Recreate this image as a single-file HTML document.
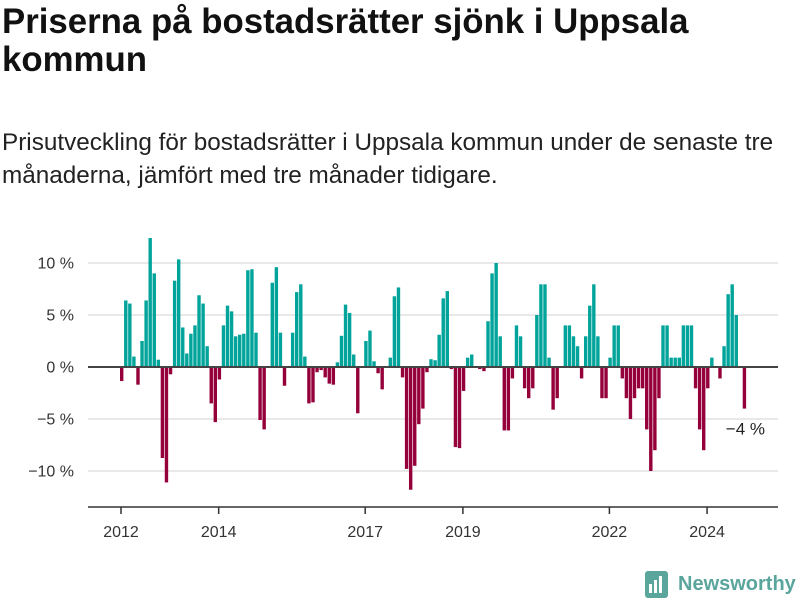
<!DOCTYPE html>
<html><head><meta charset="utf-8"><style>
html,body{margin:0;padding:0;background:#fff;width:800px;height:600px;overflow:hidden;font-family:"Liberation Sans",sans-serif;color:#111}
h1{position:absolute;left:2px;top:3px;margin:0;font-size:34.8px;line-height:38px;font-weight:bold;width:730px}
p.sub{position:absolute;left:2px;top:126px;margin:0;font-size:24.3px;line-height:33px;width:798px;color:#222}
svg{position:absolute;left:0;top:0}
</style></head><body>
<h1>Priserna på bostadsrätter sjönk i Uppsala kommun</h1>
<p class="sub">Prisutveckling för bostadsrätter i Uppsala kommun under de senaste tre månaderna, jämfört med tre månader tidigare.</p>
<svg id="chart" width="800" height="600"></svg>
<script>
const startYear = 2012;
const values = [-1.35,6.4,6.1,1.0,-1.7,2.5,6.4,12.4,9.0,0.7,-8.75,-11.1,-0.7,8.3,10.35,3.8,1.3,3.2,4.0,6.9,6.1,2.0,-3.5,-5.3,-1.2,4.0,5.9,5.35,2.95,3.1,3.2,9.3,9.4,3.3,-5.1,-6.0,
null,8.1,9.6,3.3,-1.8,null,3.3,7.2,7.95,1.0,-3.5,-3.4,-0.5,-0.3,-1.0,-1.6,-1.7,0.45,3.0,6.0,5.2,1.2,-4.45,null,2.5,3.5,0.55,-0.6,-2.15,null,0.9,6.8,7.65,-1.0,-9.8,-11.8,-9.5,-5.5,-4.0,
-0.5,0.75,0.65,3.1,6.6,7.3,-0.2,-7.7,-7.8,-2.3,0.9,1.2,null,-0.2,-0.4,4.4,9.0,10.0,2.95,-6.1,-6.1,-1.1,4.0,2.95,-2.05,-3.0,-2.05,5.0,7.95,7.95,0.9,-4.1,-3.0,null,4.0,4.0,2.95,2.0,
-1.1,2.95,5.9,7.95,2.95,-3.0,-3.0,0.9,4.0,4.0,-1.1,-3.0,-5.0,-3.0,-2.05,-2.05,-6.0,-10.0,-8.0,-3.0,4.0,4.0,0.9,0.9,0.9,4.0,4.0,4.0,-2.05,-6.0,-8.0,-2.05,0.9,null,-1.1,2.0,7.0,7.95,5.0,null,-4.0];
const yTicks = [10,5,0,-5,-10];
const yTickLabels = ["10 %","5 %","0 %","−5 %","−10 %"];
const xTickYears = [2012,2014,2017,2019,2022,2024];
const lastLabel = "−4 %";

const NS="http://www.w3.org/2000/svg";
const svg=document.getElementById('chart');
function x(i){return 120+i*4.07;}
function xYear(yr){return x((yr-startYear)*12)+1;}
function y(v){return 367-v*10.4;}
function mk(t,a,txt){const e=document.createElementNS(NS,t);for(const k in a)e.setAttribute(k,a[k]);if(txt!==undefined)e.textContent=txt;svg.appendChild(e);return e;}
yTicks.forEach((t,k)=>{
  const g=mk('line',{x1:88,x2:778,y1:y(t),y2:y(t),stroke:'#e2e2e2','stroke-width':1.5});
  
  
  const l=mk('text',{x:74,y:y(t)+5.5,'text-anchor':'end','font-size':16,fill:'#333','font-family':'Liberation Sans, sans-serif'},yTickLabels[k]);
  
  
});
values.forEach((v,i)=>{
  if(v===null)return;
  const r=mk('rect',{x:x(i),width:3.4,y:Math.min(y(v),y(0)),height:Math.abs(y(v)-y(0)),fill:v>=0?'#00a49a':'#95003a'});
  
  
});
const z=mk('line',{x1:88,x2:778,y1:y(0),y2:y(0),stroke:'#444','stroke-width':2});


const ax=mk('line',{x1:88,x2:778,y1:507,y2:507,stroke:'#333','stroke-width':1.5});


xTickYears.forEach(yr=>{
  const tk=mk('line',{x1:xYear(yr),x2:xYear(yr),y1:507,y2:514,stroke:'#333','stroke-width':1.5});
  
  
  const tl=mk('text',{x:xYear(yr),y:537,'text-anchor':'middle','font-size':16,fill:'#333','font-family':'Liberation Sans, sans-serif'},String(yr));
  
  
});
const li=values.length-1;
const ll=mk('text',{x:765,y:y(values[li])+26,'text-anchor':'end','font-size':17,fill:'#222','font-family':'Liberation Sans, sans-serif'},lastLabel);


</script>
<svg width="800" height="600" style="pointer-events:none">
  <rect x="645" y="571" width="23" height="27" rx="3" fill="#5aa59c"/>
  <rect x="649" y="584" width="3" height="9" fill="#fff"/><rect x="654" y="580" width="3" height="13" fill="#fff"/><rect x="659" y="576" width="3" height="17" fill="#fff"/>
  <text x="678" y="590" font-size="20" font-weight="bold" fill="#5aa59c" font-family="Liberation Sans, sans-serif">Newsworthy</text>
</svg>
</body></html>
